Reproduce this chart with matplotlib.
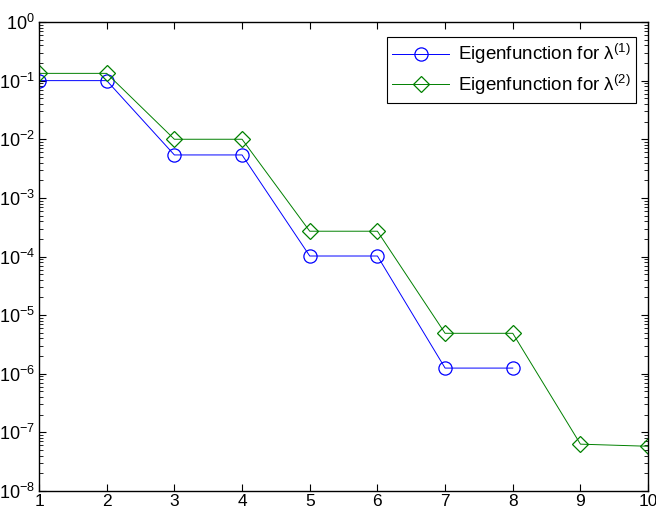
import matplotlib
matplotlib.use('Agg')
import matplotlib.pyplot as plt
import numpy as np

plt.rcParams['font.family'] = ['Liberation Sans', 'DejaVu Sans']
plt.rcParams['mathtext.fontset'] = 'custom'
plt.rcParams['mathtext.rm'] = 'Liberation Sans'
plt.rcParams['mathtext.it'] = 'Liberation Sans:italic'
plt.rcParams['mathtext.bf'] = 'Liberation Sans:bold'

# index of coefficient
x1 = [1, 2, 3, 4, 5, 6, 7, 8]
x2 = [1, 2, 3, 4, 5, 6, 7, 8, 9, 10]

# magnitudes
eig1 = [1.0e-1, 1.0e-1, 5.4e-3, 5.4e-3, 1.02e-4, 1.02e-4, 1.25e-6, 1.25e-6]
eig2 = [1.33e-1, 1.33e-1, 1.0e-2, 1.0e-2, 2.7e-4, 2.7e-4, 4.9e-6, 4.9e-6, 6.3e-8, 5.8e-8]

labels = [r'Eigenfunction for λ$^{(1)}$', r'Eigenfunction for λ$^{(2)}$']

fig = plt.figure(figsize=(6.56, 5.14), dpi=100)
ax = fig.add_axes([0.0595, 0.0447, 0.9285, 0.9125])

ax.semilogy(x1, eig1, color='#0000ff', marker='o', markersize=9.5,
            markerfacecolor='none', markeredgewidth=0.9, linewidth=0.7, label=labels[0])
ax.semilogy(x2, eig2, color='#008000', marker='D', markersize=8,
            markerfacecolor='none', markeredgewidth=0.9, linewidth=0.7, label=labels[1])

ax.set_xlim(1, 10)
ax.set_ylim(1e-8, 1e0)
ax.set_xticks(range(1, 11))
ax.set_yticks([10.0 ** k for k in range(-8, 1)])
ax.set_yticklabels([r'10$^{%d}$' % k for k in range(-8, 1)])

ax.tick_params(which='both', direction='in', top=True, right=True, labelsize=13)
ax.tick_params(which='major', length=5, width=0.8)
ax.tick_params(which='minor', length=3, width=0.6)
ax.tick_params(axis='x', pad=2, labelsize=12.5)
ax.tick_params(axis='y', pad=3)
for s in ax.spines.values():
    s.set_linewidth(1.0)

leg = ax.legend(loc='upper right', fontsize=13.5, fancybox=False, framealpha=1,
                edgecolor='black', borderpad=0.3, handlelength=3.0, handletextpad=0.5,
                labelspacing=0.35, bbox_to_anchor=(0.987, 0.977), borderaxespad=0.2)
leg.get_frame().set_linewidth(0.8)

plt.savefig('out.png', dpi=100)
